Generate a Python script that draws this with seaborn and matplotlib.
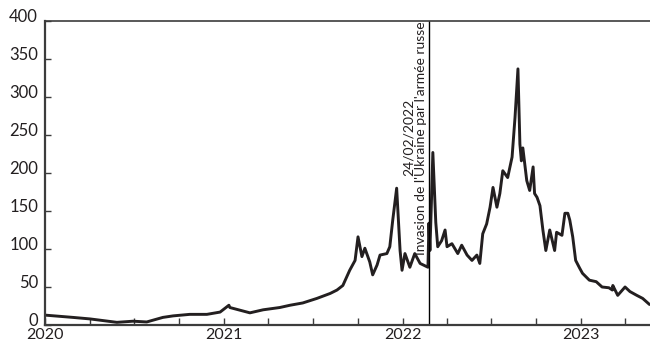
import matplotlib
matplotlib.use("Agg")
import matplotlib.pyplot as plt
import matplotlib.dates as mdates
import matplotlib.transforms as mtransforms
import numpy as np
import pandas as pd
import seaborn as sns

# Prix du gaz (€/MWh), relevés successifs
dates = [
    "2020-01-01", "2020-02-27", "2020-04-02", "2020-05-27", "2020-06-29",
    "2020-07-27", "2020-08-29", "2020-09-19", "2020-10-23", "2020-11-27",
    "2020-12-24", "2021-01-11", "2021-01-13", "2021-02-23", "2021-03-22",
    "2021-04-25", "2021-05-16", "2021-06-11", "2021-07-10", "2021-08-06",
    "2021-08-20", "2021-09-01", "2021-09-15", "2021-09-26", "2021-10-02",
    "2021-10-10", "2021-10-16", "2021-10-26", "2021-11-01", "2021-11-10",
    "2021-11-16", "2021-11-30", "2021-12-06", "2021-12-12", "2021-12-20",
    "2021-12-27", "2021-12-31", "2022-01-06", "2022-01-16", "2022-01-26",
    "2022-02-06", "2022-02-22", "2022-02-24", "2022-02-26", "2022-03-01",
    "2022-03-04", "2022-03-10", "2022-03-14", "2022-03-22", "2022-03-29",
    "2022-04-02", "2022-04-12", "2022-04-24", "2022-05-02", "2022-05-13",
    "2022-05-23", "2022-06-02", "2022-06-08", "2022-06-14", "2022-06-22",
    "2022-06-29", "2022-07-05", "2022-07-13", "2022-07-19", "2022-07-25",
    "2022-08-04", "2022-08-13", "2022-08-19", "2022-08-25", "2022-08-29",
    "2022-09-01", "2022-09-04", "2022-09-12", "2022-09-18", "2022-09-25",
    "2022-09-28", "2022-10-03", "2022-10-09", "2022-10-15", "2022-10-21",
    "2022-10-29", "2022-11-08", "2022-11-12", "2022-11-23", "2022-11-29",
    "2022-12-05", "2022-12-09", "2022-12-15", "2022-12-21", "2022-12-29",
    "2023-01-04", "2023-01-18", "2023-02-01", "2023-02-13", "2023-02-27",
    "2023-03-06", "2023-03-07", "2023-03-17", "2023-04-01", "2023-04-11",
    "2023-04-25", "2023-05-07", "2023-05-21",
]
prices = [
    13, 10, 8, 3.5, 5,
    4, 10, 12, 14, 14,
    17, 26, 23, 16, 20,
    23, 26, 29, 35, 41.5,
    46, 52, 72, 85, 116,
    90, 101, 83, 66, 79,
    92, 94, 103, 138, 180,
    98, 72, 94, 76, 94,
    81, 76, 134, 98, 160,
    227, 135, 103, 111, 125,
    103, 107, 94, 105, 92,
    85, 92, 81, 120, 133,
    155, 181, 155, 173, 203,
    194, 221, 273, 337, 238,
    216, 233, 190, 177, 208,
    173, 168, 157, 125, 98,
    125, 98, 122, 118, 147,
    147, 138, 116, 85, 75,
    68, 59, 57, 50, 49,
    46, 52, 39, 50, 44,
    39, 35, 27,
]

df = pd.DataFrame({"date": pd.to_datetime(dates), "prix": prices})

sns.set_theme(style="ticks")
plt.rcParams["font.family"] = ["Lato", "DejaVu Sans"]

ink = "#231f20"
spine_col = "#3c3c3c"

fig = plt.figure(figsize=(6.5, 3.44), dpi=100)
ax = fig.add_axes([45 / 650, 19 / 344, 1 - 45 / 650, 304 / 344])

sns.lineplot(data=df, x="date", y="prix", ax=ax, color=ink, linewidth=2.1)

invasion = pd.Timestamp("2022-02-24")
ax.axvline(invasion, color="black", linewidth=1.0)
ax.text(invasion - pd.Timedelta(days=3), 400,
        "24/02/2022\nInvasion de l'Ukraine par l'armée russe",
        rotation=90, ha="right", va="top", multialignment="center",
        fontsize=10, color=ink, linespacing=1.1)

ax.set_xlim(pd.Timestamp("2020-01-01"), pd.Timestamp("2023-05-22"))
ax.set_ylim(0, 400)
ax.set_yticks(np.arange(0, 401, 50))
ax.xaxis.set_major_locator(mdates.YearLocator())
ax.xaxis.set_major_formatter(mdates.DateFormatter("%Y"))
ax.xaxis.set_minor_locator(mdates.MonthLocator(bymonth=[4, 7, 10]))

ax.set_xlabel("")
ax.set_ylabel("")
ax.tick_params(axis="both", which="both", direction="in", colors=spine_col,
               labelcolor=ink, labelsize=12)
ax.tick_params(axis="x", which="major", length=5, width=1.0, pad=2.5,
               labelsize=11.5)
ax.tick_params(axis="x", which="minor", length=5, width=1.0)
ax.tick_params(axis="y", which="major", length=4, width=1.0, pad=5)

for side in ["left", "bottom"]:
    ax.spines[side].set_color(spine_col)
    ax.spines[side].set_linewidth(1.6)
ax.spines["top"].set_color(spine_col)
ax.spines["top"].set_linewidth(1.2)
ax.spines["top"].set_visible(True)
ax.spines["right"].set_visible(False)
ax.grid(False)

# lift the value labels slightly above their ticks
fig.canvas.draw()
lift = mtransforms.ScaledTranslation(0, 5 / 100, fig.dpi_scale_trans)
for tick in ax.yaxis.get_major_ticks():
    tick.label1.set_transform(tick.label1.get_transform() + lift)

fig.savefig("out.png", dpi=100)
